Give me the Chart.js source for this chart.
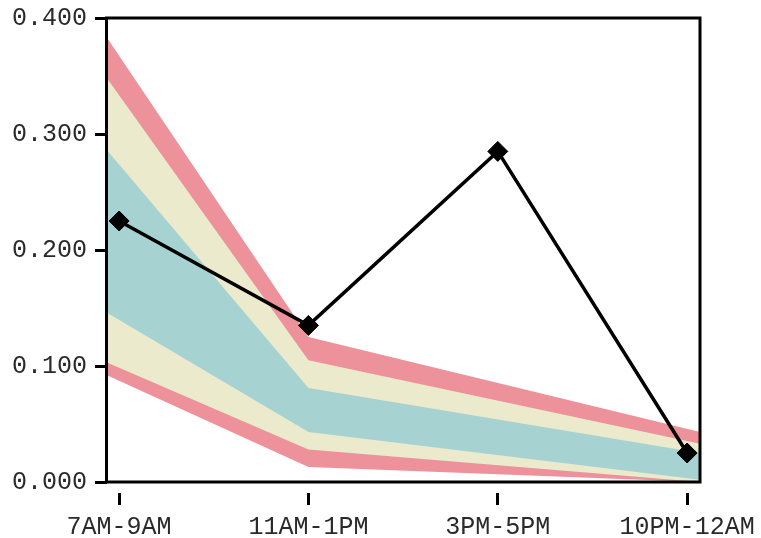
<!DOCTYPE html>
<html>
<head>
<meta charset="utf-8">
<script src="https://cdn.jsdelivr.net/npm/chart.js@4.4.1/dist/chart.umd.min.js"></script>
<style>
  html, body { margin: 0; padding: 0; background: #ffffff; }
  #wrap { width: 761px; height: 538px; }
</style>
</head>
<body>
<div id="wrap"><canvas id="c" width="761" height="538"></canvas></div>
<script>
// ---- data ----
const categories = ['7AM-9AM', '11AM-1PM', '3PM-5PM', '10PM-12AM'];
const values = [0.225, 0.135, 0.285, 0.025];
const yTicks = [0, 0.1, 0.2, 0.3, 0.4];

// band boundaries at: left edge, 11AM-1PM, right edge
const redTop       = [0.383, 0.125, 0.043];
const yellowTop    = [0.348, 0.105, 0.033];
const tealTop      = [0.286, 0.081, 0.025];
const tealBottom   = [0.146, 0.043, 0.002];
const yellowBottom = [0.103, 0.028, 0.000];
const redBottom    = [0.092, 0.013, 0.000];

// ---- layout ----
const X_MIN = -0.064, X_MAX = 3.068;
const bandX = [X_MIN, 1, X_MAX];
const RED = 'rgb(237,145,154)', BEIGE = 'rgb(235,234,205)', TEAL = 'rgb(166,211,210)';
const FONT = "'Liberation Mono', 'Courier New', monospace";

const band = (arr, fillTarget, color, order) => ({
  data: arr.map((v, i) => ({ x: bandX[i], y: v })),
  borderWidth: 0, pointRadius: 0, tension: 0,
  fill: fillTarget === null ? false : { target: fillTarget },
  backgroundColor: color, borderColor: 'rgba(0,0,0,0)', order: order
});

const framePlugin = {
  id: 'frame',
  afterDatasetsDraw(chart) {
    const a = chart.chartArea, ctx = chart.ctx;
    ctx.save();
    ctx.strokeStyle = '#000';
    ctx.lineWidth = 3;
    ctx.strokeRect(a.left - 0.5, a.top, a.right - a.left + 0.5, a.bottom - a.top);
    ctx.restore();
  }
};

new Chart(document.getElementById('c'), {
  type: 'line',
  data: {
    datasets: [
      {
        data: values.map((v, i) => ({ x: i, y: v })),
        borderColor: '#000', borderWidth: 3.5, tension: 0, fill: false,
        pointStyle: 'rectRot', pointRadius: 10, pointBackgroundColor: '#000',
        pointBorderColor: '#000', pointBorderWidth: 1, order: 0
      },
      band(tealTop, 2, TEAL, 1),
      band(tealBottom, null, TEAL, 1),
      band(yellowTop, 4, BEIGE, 2),
      band(yellowBottom, null, BEIGE, 2),
      band(redTop, 6, RED, 3),
      band(redBottom, null, RED, 3)
    ]
  },
  options: {
    responsive: false, animation: false, devicePixelRatio: 1,
    layout: { padding: { top: 18, right: 61, left: 0, bottom: 0 } },
    plugins: { legend: { display: false }, tooltip: { enabled: false } },
    scales: {
      x: {
        type: 'linear', min: X_MIN, max: X_MAX,
        afterBuildTicks(s) { s.ticks = categories.map((_, i) => ({ value: i })); },
        afterFit(s) { s.height = 56; s.paddingLeft = 0; s.paddingRight = 0; },
        border: { display: false },
        grid: {
          drawOnChartArea: false, drawTicks: true, tickLength: 23,
          tickColor: '#000', tickWidth: 3,
          tickBorderDash: [0, 11, 12, 100]
        },
        ticks: {
          autoSkip: false, maxRotation: 0, padding: 7, color: '#2a2a2a',
          font: { family: FONT, size: 25 },
          callback: (v) => categories[v]
        }
      },
      y: {
        min: 0, max: 0.4,
        afterBuildTicks(s) { s.ticks = yTicks.map(v => ({ value: v })); },
        afterFit(s) { s.width = 107; s.paddingTop = 0; s.paddingBottom = 0; },
        border: { display: false },
        grid: {
          drawOnChartArea: false, drawTicks: true, tickLength: 12,
          tickColor: '#000', tickWidth: 3
        },
        ticks: {
          padding: 8, color: '#2a2a2a',
          font: { family: FONT, size: 25 },
          callback: (v) => v.toFixed(3)
        }
      }
    }
  },
  plugins: [framePlugin]
});
</script>
</body>
</html>
